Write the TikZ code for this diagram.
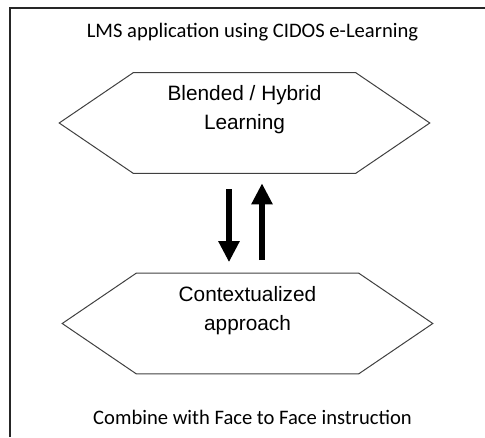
\documentclass[tikz,border=0pt]{standalone}
\usepackage{fontspec}
\setmainfont{Liberation Sans}
\newfontfamily\calibri{Carlito}
\usetikzlibrary{arrows.meta}
\usetikzlibrary{positioning}

\begin{document}
\begin{tikzpicture}[x=1pt, y=-1pt, semithick]
\tikzstyle{hexbox} = [minimum width=222pt, minimum height=100pt, inner sep=0pt]
\tikzstyle{hexline} = [draw=black!75, line width=1pt, line join=miter]
\tikzstyle{hextext} = [align=center, inner sep=0pt, font=\fontsize{20.8}{29}\selectfont]
\tikzstyle{note} = [anchor=base, inner sep=0pt, font=\calibri\fontsize{20.6}{24}\selectfont]
\tikzstyle{bigarrow} = [line width=6pt, -{Triangle[width=20pt,length=21pt]}]

\useasboundingbox (0,0) rectangle (485,437);

% frame
\draw[line width=1.5pt, black!85] (10,437) -- (10,8) -- (485,8);

\node[note] (title) at (252.5,37.5) {LMS application using CIDOS e-Learning};
\node[note] (face) at (252.5,424) {Combine with Face to Face instruction};

\node[hexbox] (blend) at (244.5,123) {};
\node[hexbox] (context) at (247.5,323.5) {};

\foreach \n in {blend,context}
  \draw[hexline] (\n.north west) -- (\n.north east) -- ([xshift=74pt]\n.east)
    -- (\n.south east) -- (\n.south west) -- ([xshift=-74pt]\n.west) -- cycle;

\node[hextext, below=12pt of blend.north] (blendtext) {Blended / Hybrid\\Learning};
\node[hextext, below=13pt of context.north] (contexttext) {Contextualized\\approach};

\draw[bigarrow] ([xshift=-15.5pt,yshift=-16pt]blend.south) -- ([xshift=-18.5pt,yshift=11pt]context.north);
\draw[bigarrow] ([xshift=14.5pt,yshift=13pt]context.north) -- ([xshift=17.5pt,yshift=-10pt]blend.south);

\end{tikzpicture}
\end{document}
